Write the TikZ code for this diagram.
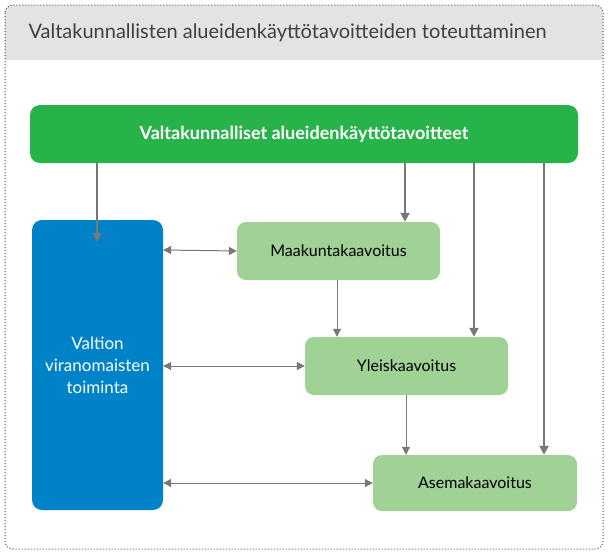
\documentclass[tikz,border=0pt]{standalone}
\usepackage{fontspec}
\setmainfont{Lato}
\usetikzlibrary{arrows.meta}
\definecolor{grn}{RGB}{40,178,74}
\definecolor{lgrn}{RGB}{160,210,150}
\definecolor{blu}{RGB}{0,130,200}
\definecolor{arr}{RGB}{120,120,120}
\tikzset{
 sub/.style={draw=none,fill=lgrn,rounded corners=9pt,font=\fontsize{16}{19}\selectfont},
 conn/.style={draw=arr,line width=2pt,-{Triangle[length=9pt,width=9pt]}},
 thin/.style={draw=arr,line width=1pt,-{Triangle[length=8pt,width=8pt]}},
 dbl/.style={draw=arr,line width=1pt,{Triangle[length=8pt,width=8pt]}-{Triangle[length=8pt,width=8pt]}}
}
\begin{document}
\begin{tikzpicture}[x=1pt,y=-1pt]
\useasboundingbox (0,0) rectangle (608,554);
\fill[gray!22,rounded corners=8pt] (5,5) rectangle (603,60);
\fill[gray!22] (5,40) rectangle (603,60);
\draw[black!70,dotted,line width=1pt,rounded corners=8pt] (5,5) rectangle (603,549);
\node[anchor=west,font=\fontsize{20}{24}\selectfont,text=black!75] (title) at (25,33) {Valtakunnallisten alueidenkäyttötavoitteiden toteuttaminen};
\node[fill=grn,rounded corners=10pt,minimum width=548pt,minimum height=58pt,text=white,font=\bfseries\fontsize{18}{22}\selectfont] (top) at (304,134) {Valtakunnalliset alueidenkäyttötavoitteet};
\node[fill=blu,rounded corners=10pt,minimum width=131pt,minimum height=290pt,text=white,align=center,font=\fontsize{17}{22}\selectfont] (val) at (97.5,365) {Valtion\\viranomaisten\\toiminta};
\node[sub,minimum width=203pt,minimum height=58pt] (maa) at (338.5,251) {Maakuntakaavoitus};
\node[sub,minimum width=203pt,minimum height=58pt] (yle) at (406.5,366) {Yleiskaavoitus};
\node[sub,minimum width=204pt,minimum height=56pt] (ase) at (475,483) {Asemakaavoitus};
\draw[conn] (97,163) -- (97,242);
\draw[conn] (405,163) -- (maa.north -| 405,0);
\draw[conn] (474,163) -- (yle.north -| 474,0);
\draw[conn] (544,163) -- (ase.north -| 544,0);
\draw[thin] (maa.south -| 337,0) -- (yle.north -| 337,0);
\draw[thin] (yle.south -| 406,0) -- (ase.north -| 406,0);
\draw[dbl] (val.east |- 0,250) -- (maa.west);
\draw[dbl] (val.east |- 0,366) -- (yle.west);
\draw[dbl] (val.east |- 0,483) -- (ase.west);
\end{tikzpicture}
\end{document}
